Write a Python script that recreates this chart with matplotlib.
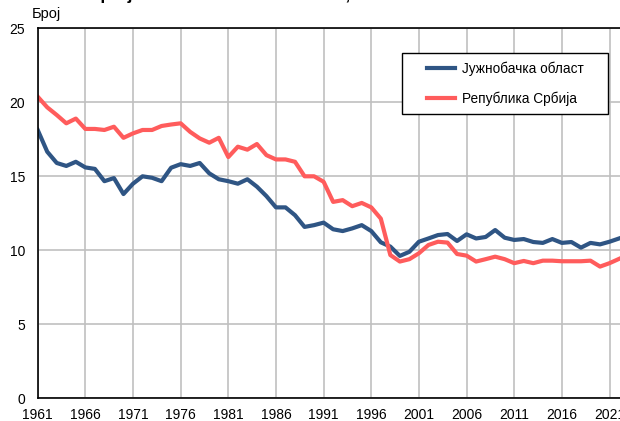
import matplotlib
matplotlib.use("Agg")
import matplotlib.pyplot as plt
from matplotlib.patches import Rectangle

years = list(range(1961, 2023))
juznobacka = [18.13, 16.66, 15.9, 15.7, 15.98, 15.6, 15.5, 14.67, 14.88, 13.8,
              14.5, 15.0, 14.9, 14.67, 15.58, 15.82, 15.7, 15.9, 15.2, 14.8,
              14.67, 14.5, 14.8, 14.3, 13.66, 12.9, 12.9, 12.37, 11.58, 11.7,
              11.87, 11.42, 11.3, 11.48, 11.7, 11.3, 10.54, 10.25, 9.62, 9.9,
              10.58, 10.8, 11.03, 11.1, 10.63, 11.08, 10.8, 10.9, 11.37, 10.85,
              10.7, 10.76, 10.56, 10.5, 10.76, 10.5, 10.56, 10.18, 10.5, 10.4,
              10.58, 10.8]
srbija = [20.38, 19.66, 19.14, 18.58, 18.9, 18.2, 18.2, 18.13, 18.35, 17.6,
          17.9, 18.13, 18.13, 18.4, 18.5, 18.58, 18.0, 17.56, 17.27, 17.6,
          16.3, 17.0, 16.8, 17.18, 16.43, 16.14, 16.14, 15.98, 15.0, 15.0,
          14.63, 13.27, 13.39, 12.98, 13.2, 12.9, 12.14, 9.68, 9.24, 9.4,
          9.8, 10.36, 10.58, 10.52, 9.75, 9.64, 9.24, 9.4, 9.57, 9.4,
          9.13, 9.28, 9.13, 9.3, 9.3, 9.26, 9.26, 9.26, 9.3, 8.9,
          9.13, 9.42]
series_names = ["Јужнобачка област", "Република Србија"]
xtick_years = list(range(1961, 2022, 5))
yticks = [0, 5, 10, 15, 20, 25]

plt.rcParams['font.family'] = ['Liberation Sans', 'DejaVu Sans']

W, H = 620, 421
fig = plt.figure(figsize=(W / 100, H / 100), dpi=100)
left, right, top, bottom = 37.7, 628.6, 28.3, 398.3
ax = fig.add_axes([left / W, 1 - bottom / H, (right - left) / W, (bottom - top) / H])

blue = "#2f5584"
red = "#ff5c5c"
ax.plot(years, juznobacka, color=blue, lw=3.0, label=series_names[0], solid_joinstyle='round')
ax.plot(years, srbija, color=red, lw=3.0, label=series_names[1], solid_joinstyle='round')

ax.set_xlim(1961, 2023)
ax.set_ylim(0, 25)
ax.set_xticks(xtick_years)
ax.set_xticklabels([str(y) for y in xtick_years], fontsize=10)
ax.set_yticks(yticks)
ax.set_yticklabels([str(v) for v in yticks], fontsize=10)
ax.tick_params(length=0)
ax.tick_params(axis='y', pad=9)
ax.tick_params(axis='x', pad=7)
ax.grid(True, color="#c0c0c0", lw=1.2)
ax.set_axisbelow(True)
for s in ax.spines.values():
    s.set_color("black")
    s.set_linewidth(1.2)

fig.text(32 / W, 1 - 14 / H, "Број", fontsize=10.5, va='center', ha='left')
fig.text(0 / W, 1 + 0.5 / H, "Стопа живорођених на 1000 становника, 1961–2022",
         fontsize=12.5, fontweight='bold', va='baseline', ha='left')

# legend frame
frame = Rectangle((401.7 / W, 1 - 114.3 / H), (608.3 - 401.7) / W,
                  (114.3 - 53.3) / H, transform=fig.transFigure,
                  facecolor='white', edgecolor='black', lw=1.0, zorder=4,
                  clip_on=False)
ax.add_artist(frame)
fs = 9.8
leg = ax.legend(loc='upper left', bbox_to_anchor=(426.7 / W, 1 - 61.5 / H),
                bbox_transform=fig.transFigure, fontsize=fs, frameon=False,
                handlelength=28 / (fs * 100 / 72), labelspacing=1.15,
                borderpad=0, handletextpad=7 / (fs * 100 / 72), borderaxespad=0)
leg.set_zorder(6)

fig.savefig("out.png", dpi=100)
